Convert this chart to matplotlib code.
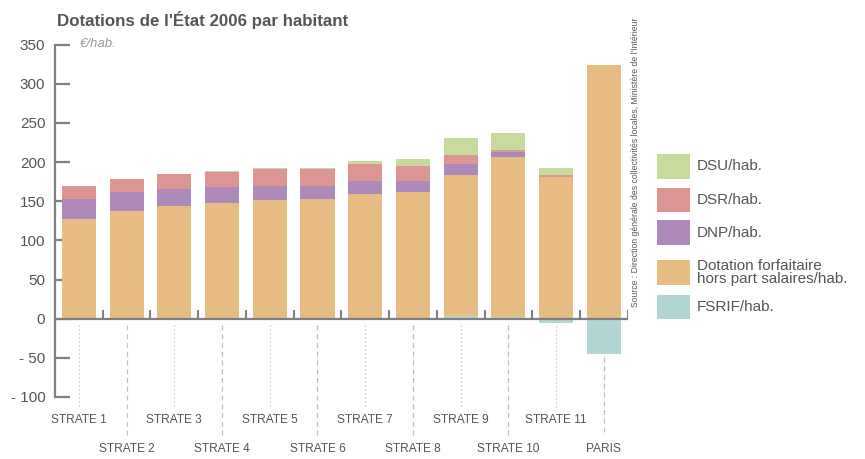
import numpy as np
import matplotlib
matplotlib.use("Agg")
import matplotlib.pyplot as plt
from matplotlib.patches import Rectangle

# ---- data ----
categories = ["STRATE 1", "STRATE 2", "STRATE 3", "STRATE 4", "STRATE 5", "STRATE 6",
              "STRATE 7", "STRATE 8", "STRATE 9", "STRATE 10", "STRATE 11", "PARIS"]
fsrif = [0, 0, 0, 0, 0, 0, 0, 0, 3, 2.5, -5.5, -45]
dotation = [127.5, 138, 144.5, 148, 152, 153, 159.5, 161.5, 181, 203.5, 180.5, 324.5]
dnp = [25.5, 24, 21, 20, 18, 16, 16, 15, 13, 7, 0, 0]
dsr = [16, 16.5, 19, 20, 21, 22.5, 21.5, 18, 12.5, 3, 3, 0]
dsu = [0, 0, 0.5, 1, 1.5, 1, 4.5, 9, 21, 21.5, 9.5, 0]
yticks = [-100, -50, 0, 50, 100, 150, 200, 250, 300, 350]
ytick_labels = ["- 100", "- 50", "0", "50", "100", "150", "200", "250", "300", "350"]
legend_labels = ["DSU/hab.", "DSR/hab.", "DNP/hab.",
                 "Dotation forfaitaire\nhors part salaires/hab.", "FSRIF/hab."]

# ---- style ----
c_dsu = "#c9db9c"
c_dsr = "#dc9592"
c_dnp = "#ac89b9"
c_dot = "#e6bc83"
c_fsr = "#b1d6d3"
axis_col = "#808080"
txt_col = "#555555"
regular = ["Liberation Sans", "DejaVu Sans"]

W, H = 865, 459
fig = plt.figure(figsize=(W / 100, H / 100), dpi=100)
ax = fig.add_axes([55 / W, 62 / H, (627.7 - 55) / W, (397 - 44.7) / H])
ax.set_xlim(-0.5, 11.5)
ax.set_ylim(-100, 350)

x = np.arange(len(categories))
bw = 0.713
fs = np.array(fsrif, dtype=float)
bottom = np.clip(fs, 0, None)

ax.bar(x, fs, bw, color=c_fsr, linewidth=0, zorder=2)
for vals, col in [(dotation, c_dot), (dnp, c_dnp), (dsr, c_dsr), (dsu, c_dsu)]:
    v = np.array(vals, dtype=float)
    ax.bar(x, v, bw, bottom=bottom, color=col, linewidth=0, zorder=2)
    bottom = bottom + v

# axes styling
for s in ["top", "right", "bottom"]:
    ax.spines[s].set_visible(False)
ax.spines["left"].set_bounds(-100, 350)
ax.spines["left"].set_color(axis_col)
ax.spines["left"].set_linewidth(1.6)
ax.set_yticks(yticks)
ax.set_yticklabels(ytick_labels, family=regular, fontsize=11, color=txt_col)
ax.tick_params(axis="y", direction="in", length=10.5, width=1.6, color=axis_col, pad=7)
ax.set_xticks([])
ax.axhline(0, color=axis_col, lw=1.6, zorder=3)
for i in range(len(categories)):
    ax.plot([i + 0.5, i + 0.5], [0, 11], color=axis_col, lw=1.5, zorder=3,
            solid_capstyle="butt")

# category labels and guide lines
for i, cat in enumerate(categories):
    start = min(-8.5, fs[i] - 4)
    if i % 2 == 0:
        ax.plot([i, i], [start, -114], color="#c0c0c0", lw=0.9, ls=(0, (1, 2.2)),
                clip_on=False, zorder=1)
        ax.text(i, -129, cat, ha="center", va="center", family=regular,
                fontsize=8.6, color=txt_col, clip_on=False)
    else:
        ax.plot([i, i], [start, -148], color="#c0c0c0", lw=0.9, ls=(0, (4, 3)),
                clip_on=False, zorder=1)
        ax.text(i, -167, cat, ha="center", va="center", family=regular,
                fontsize=8.6, color=txt_col, clip_on=False)

# title, unit, source
fig.text(57 / W, 1 - 20 / H, "Dotations de l'État 2006 par habitant", family=regular,
         fontweight="bold", fontsize=12.2, color=txt_col, ha="left", va="center")
fig.text(80 / W, 1 - 44 / H, "€/hab.", family=regular, style="italic",
         fontsize=9.5, color="#9a9a9a", ha="left", va="center")
fig.text(635 / W, 1 - 162 / H,
         "Source : Direction générale des collectivités locales, Ministère de l'Intérieur",
         family=regular, fontsize=6.2, color="#5a5a5a", rotation=90,
         ha="center", va="center")

# legend
leg_cols = [c_dsu, c_dsr, c_dnp, c_dot, c_fsr]
leg_top = [154, 187.5, 220.5, 260, 294.5]
for col, top, lab in zip(leg_cols, leg_top, legend_labels):
    fig.patches.append(Rectangle((657 / W, 1 - (top + 24.5) / H), 33 / W, 24.5 / H,
                                 transform=fig.transFigure, facecolor=col,
                                 edgecolor="none"))
    fig.text(697 / W, 1 - (top + 12.5) / H, lab, family=regular, fontsize=11,
             color=txt_col, ha="left", va="center", linespacing=0.95)

fig.savefig("out.png", dpi=100)
